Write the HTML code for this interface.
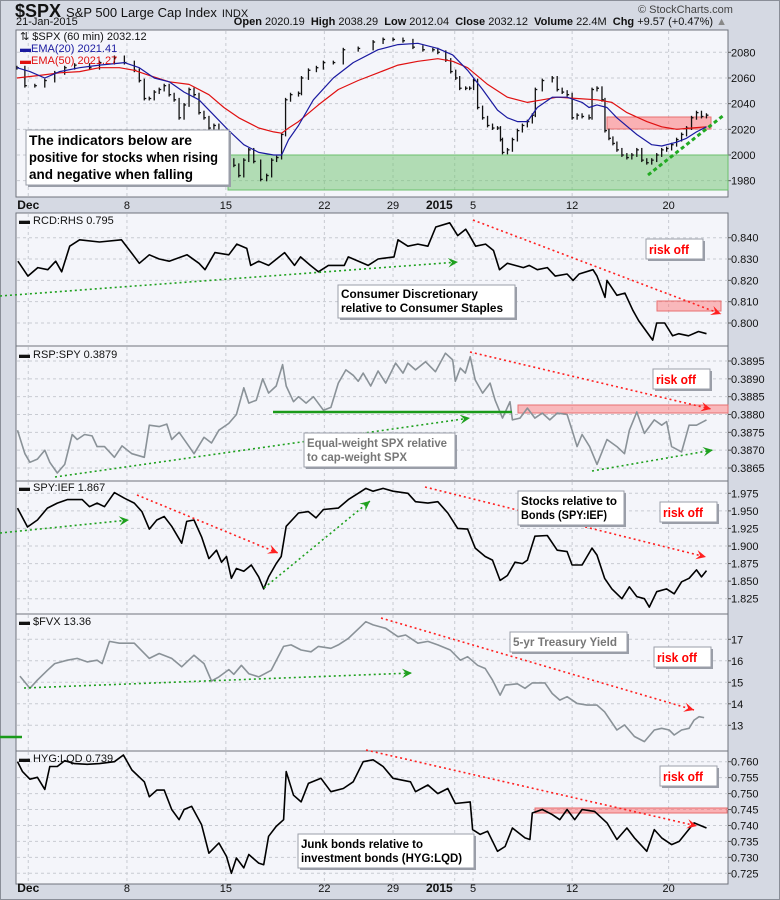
<!DOCTYPE html>
<html><head><meta charset="utf-8">
<style>
html,body{margin:0;padding:0;background:#d5d9e3;}
body{width:780px;height:900px;overflow:hidden;font-family:"Liberation Sans",sans-serif;position:relative;}
#frame{position:absolute;left:0;top:0;width:778px;height:898px;border:1px solid #8a8e98;}
.hdr{position:absolute;white-space:nowrap;color:#111;}
svg{position:absolute;left:0;top:0;}
</style></head><body>
<div id="frame"></div>
<div class="hdr" style="left:15px;top:1px;font-size:18px;font-weight:bold;">$SPX <span style="font-size:13px;font-weight:normal">S&amp;P 500 Large Cap Index</span> <span style="font-size:11px;font-weight:normal">INDX</span></div>
<div class="hdr" style="left:16px;top:16px;font-size:11px;">21-Jan-2015</div>
<div class="hdr" style="left:638px;top:4px;font-size:11px;color:#444;">© StockCharts.com</div>
<div class="hdr" style="right:53px;top:16px;font-size:11px;"><b>Open</b> 2020.19 &nbsp;<b>High</b> 2038.29 &nbsp;<b>Low</b> 2012.04 &nbsp;<b>Close</b> 2032.12 &nbsp;<b>Volume</b> 22.4M &nbsp;<b>Chg</b> +9.57 (+0.47%) <span style="color:#888">▲</span></div>
<svg id="chart" width="780" height="900"></svg>
<script>
// ---- data ----
const tickBars=[14.2,63.8,113.5,163,197.5,228.5,237.7,287.5,336];
const tickLabels=["Dec","8","15","22","29","2015","5","12","20"];
const spxCloses=[[8.5,2068],[12.5,2054],[17.5,2054],[22.5,2058],[27.5,2064],[32.5,2068],[37.5,2070],[45,2068],[50,2072],[57.5,2076],[62.5,2072],[67.5,2066],[70,2058],[72.5,2044],[75,2044],[77.5,2049],[80,2051],[82.5,2054],[85,2047],[87.5,2043],[90,2029],[92.5,2039],[95,2051],[97.5,2047],[100,2033],[102.5,2029],[105,2021],[107.5,2023],[110,2016],[115,1996],[117.5,1992],[120,1984],[122.5,1996],[125,2004],[127.5,1995],[131,1981],[134,1984],[136.5,1996],[139,1998],[141.5,2016],[143.5,2043],[146,2047],[150,2048],[151.5,2060],[155,2066],[159,2068],[162.5,2072],[167.5,2072],[172.5,2082],[180,2083],[187.5,2088],[192.5,2090],[197.5,2090],[202.5,2089],[207.5,2084],[212.5,2082],[217.5,2082],[220,2080],[224,2074],[226.5,2065],[229,2060],[231,2052],[234,2052],[236,2052],[238,2058],[240,2037],[242.5,2029],[245,2023],[247.5,2021],[250,2021],[251.5,2012],[252.5,2002],[255,2004],[257.5,2012],[260,2019],[262.5,2023],[265,2026],[267.5,2031],[269,2051],[272.5,2058],[277.5,2060],[280,2051],[282.5,2049],[285,2047],[287.5,2029],[290,2031],[292.5,2030],[296,2029],[297.5,2051],[300,2052],[302.5,2043],[304,2019],[306,2013],[308,2009],[310,2004],[312.5,2000],[315,1998],[317.5,2000],[320,2004],[322.5,1996],[325,1994],[327.5,1996],[330,2000],[332.5,2004],[335,2005],[337.5,2008],[340,2012],[342.5,2016],[345,2021],[347.5,2029],[350,2033],[352.5,2030],[355,2031]];
const ema20=[[8.5,2068],[15,2065],[22.5,2060],[30,2065],[40,2068],[50,2070],[62.5,2072],[70,2068],[77.5,2060],[85,2057],[92.5,2049],[100,2043],[107.5,2031],[115,2019],[122.5,2008],[130,2002],[137.5,2000],[141.5,2000],[145,2012],[150,2023],[157.5,2043],[167.5,2060],[177.5,2072],[190,2082],[200,2086],[210,2087],[220,2083],[227.5,2078],[235,2066],[242.5,2051],[250,2035],[255,2029],[260,2026],[265,2026],[270,2037],[277.5,2045],[285,2045],[292.5,2041],[296,2037],[300,2039],[305,2037],[310,2029],[320,2016],[327.5,2008],[332.5,2007],[340,2010],[345,2013],[350,2018],[355,2022]];
const ema50=[[8.5,2060],[20,2062],[30,2064],[40,2065],[50,2068],[60,2068],[67.5,2066],[75,2062],[85,2057],[95,2055],[105,2047],[112.5,2037],[120,2029],[130,2021],[137.5,2018],[141.5,2017],[145,2021],[150,2026],[160,2039],[170,2051],[180,2058],[190,2064],[200,2070],[210,2073],[220,2075],[227.5,2073],[235,2068],[245,2055],[255,2045],[265,2041],[272.5,2043],[280,2045],[290,2044],[300,2043],[307.5,2041],[315,2033],[325,2026],[332.5,2022],[340,2020],[347.5,2021],[355,2022]];
const rcd=[[9,.829],[14,.822],[19,.826],[24,.825],[28,.829],[31,.824],[35,.836],[40,.839],[50,.838],[61,.839],[66,.833],[70,.828],[75,.832],[80,.830],[85,.829],[94,.832],[100,.828],[103,.825],[108,.833],[115,.832],[119,.837],[124,.835],[126,.827],[130,.829],[135,.827],[143,.833],[148,.827],[151,.831],[156,.827],[160,.824],[165,.827],[173,.827],[175,.831],[185,.827],[190,.830],[198,.831],[200,.839],[205,.836],[210,.837],[215,.836],[219,.845],[226,.847],[230,.841],[234,.844],[236,.841],[239,.836],[244,.837],[248,.834],[251,.825],[255,.828],[263,.826],[266,.827],[270,.825],[275,.826],[279,.822],[285,.823],[288,.820],[291,.823],[298,.825],[300,.822],[304,.812],[305,.820],[310,.813],[314,.814],[318,.806],[321,.801],[328,.792],[330,.800],[334,.800],[338,.794],[341,.795],[346,.794],[351,.796],[355,.795]];
const rsp=[[8.8,.38756],[12.5,.3869],[15,.38666],[18.8,.38675],[22.5,.3870],[25,.38666],[28.8,.38636],[32.5,.3866],[36.3,.38744],[38.8,.3873],[42.5,.38744],[46.3,.3874],[48.8,.3871],[52.5,.3871],[57.5,.3868],[61.3,.38712],[66.3,.3869],[72.5,.3868],[75,.3877],[80,.38766],[83.8,.38773],[86.3,.3873],[90,.3875],[95,.3871],[97.5,.3869],[102.5,.38736],[106.3,.3872],[110,.38756],[115,.38775],[118.8,.3880],[122.5,.38875],[125,.38832],[128.8,.3884],[132,.3890],[135,.3886],[138.8,.3888],[142,.3894],[143.8,.3888],[147.5,.38836],[150,.3885],[153.8,.38832],[157.5,.3885],[162.5,.38812],[166.3,.3882],[170,.38888],[173.8,.38925],[177.5,.3891],[180,.38893],[182.5,.38916],[186.3,.3888],[190,.38922],[193.8,.38888],[198.8,.38944],[202.5,.38916],[205,.38944],[208.8,.38925],[213.8,.38948],[218.8,.3892],[223.8,.38972],[227.5,.38953],[228.8,.38893],[231.3,.3893],[233.8,.38916],[236.3,.38962],[238.8,.38897],[242.5,.3886],[246.3,.38888],[248.8,.3884],[252.5,.3879],[256.3,.38836],[257.5,.38785],[261.3,.3879],[265,.38818],[268.8,.3879],[272.5,.38804],[276.3,.38785],[280,.38804],[285,.3880],[287.5,.38756],[290,.3871],[292.5,.38744],[296.3,.3871],[300,.3866],[305,.3873],[310,.3871],[313.8,.3869],[316.3,.38756],[320,.38807],[323.8,.38747],[328.8,.38785],[332.5,.3877],[335,.3878],[337.5,.3871],[342.5,.38695],[346.3,.3877],[350,.3877],[355,.38785]];
const spyief=[[8.8,1.954],[13.8,1.927],[18.8,1.937],[23.8,1.954],[28.8,1.961],[33.8,1.966],[41.3,1.966],[45,1.956],[48.8,1.961],[52.5,1.956],[57.5,1.976],[62.5,1.968],[67.5,1.961],[71.3,1.949],[75,1.924],[78.8,1.937],[82.5,1.942],[86.3,1.928],[91.3,1.904],[93.8,1.935],[97.5,1.937],[101.3,1.913],[105,1.882],[108.8,1.894],[111.3,1.877],[113.8,1.885],[116.3,1.854],[118.8,1.868],[122.5,1.864],[126.3,1.873],[130,1.856],[132.5,1.839],[135,1.856],[138.8,1.875],[141.3,1.885],[143.8,1.928],[150,1.947],[155,1.949],[158.8,1.940],[162.5,1.952],[170,1.954],[175,1.966],[180,1.975],[183.8,1.982],[187.5,1.978],[192.5,1.982],[197.5,1.978],[205,1.975],[208.8,1.963],[215,1.961],[220,1.963],[225,1.947],[230,1.925],[235,1.924],[238.8,1.897],[243.8,1.885],[247.5,1.880],[251.3,1.851],[255,1.858],[258.8,1.877],[262.5,1.875],[265,1.880],[268.8,1.914],[275,1.915],[280,1.894],[285,1.892],[287.5,1.873],[292.5,1.873],[297.5,1.897],[300,1.887],[303.8,1.854],[307.5,1.839],[312.5,1.825],[316.3,1.842],[320,1.828],[323.8,1.825],[326.3,1.813],[330,1.835],[335,1.839],[338.8,1.832],[342.5,1.849],[346.3,1.854],[350,1.866],[352.5,1.856],[355,1.865]];
const fvx=[[10,15.29],[15,14.72],[18.8,15.1],[23.8,15.56],[27.5,15.87],[33.8,16.03],[38.8,16.11],[43.8,15.95],[48.8,16.03],[51.3,15.87],[55,16.9],[60,16.82],[67.5,16.82],[75,16.11],[80,16.34],[86.3,16.11],[91.3,15.72],[97.5,16.26],[102.5,15.87],[106.3,15.06],[110,15.25],[115,15.59],[117.5,15.37],[121.3,15.79],[125,15.4],[130,15.25],[136.3,15.56],[142.5,16.67],[146.3,16.74],[151.3,16.5],[156.3,16.42],[160,16.67],[166.3,16.58],[170,16.74],[175,17.04],[181.3,17.59],[183.8,17.82],[187.5,17.67],[193.8,17.51],[200,17.12],[203.8,17.2],[210,16.82],[215,16.9],[220,16.74],[226.3,16.5],[231.3,16.03],[235,16.19],[240,15.79],[243.8,15.64],[247.5,15.1],[251.3,14.4],[253.8,14.87],[260,14.93],[263.8,14.72],[267.5,14.97],[273.8,14.97],[277.5,14.48],[281.3,14.17],[285,14.33],[290,14.02],[295,13.94],[300,13.94],[303.8,13.63],[310,12.78],[313.8,13.02],[318.8,12.48],[323.8,12.24],[328.8,12.78],[332.5,12.86],[336.3,12.78],[338.8,12.55],[342.5,12.78],[346.3,12.86],[348.8,13.24],[351.3,13.4],[353.8,13.36]];
const hyg=[[8.8,.760],[11.3,.7569],[15,.7545],[18.8,.7551],[22.5,.7513],[25,.7585],[28.8,.7585],[32.5,.7603],[37.5,.7594],[43.8,.7592],[50,.7594],[57.5,.760],[62,.7621],[66.3,.7574],[72.5,.7537],[75,.749],[78.8,.7511],[82.5,.7511],[86.3,.745],[90,.7418],[92.5,.745],[96.3,.746],[101.3,.7402],[105,.7313],[110,.7345],[113.8,.7303],[116.3,.725],[118.8,.7298],[122.5,.7267],[125,.7309],[130,.7282],[132.5,.7277],[135,.7366],[138.8,.7397],[142.5,.7418],[143.8,.7569],[147.5,.7495],[151.3,.7474],[155,.7532],[161.3,.7548],[166.3,.7506],[172.5,.7516],[177.5,.7537],[182.5,.760],[187.5,.7606],[192.5,.7585],[197.5,.7548],[206.3,.7537],[208.8,.7506],[215,.7527],[220,.750],[225,.7516],[228.8,.7469],[236.3,.7474],[237.5,.7387],[241.3,.7372],[245,.7382],[250,.7319],[253.8,.7334],[257.5,.7392],[263.8,.7361],[266.3,.7356],[267.5,.7439],[272.5,.745],[277.5,.7434],[281.3,.7418],[285,.745],[288.8,.7418],[292.5,.745],[298.8,.7444],[305,.7408],[310,.7356],[315,.7392],[318.8,.7361],[325,.7319],[328.8,.7387],[332.5,.7361],[337.5,.734],[341.3,.735],[348.8,.7408],[355,.7392]];
const spxTicks=[2080,2060,2040,2020,2000,1980];
const rcdTicks=[0.840,0.830,0.820,0.810,0.800];
const rspTicks=[0.3895,0.3890,0.3885,0.3880,0.3875,0.3870,0.3865];
const spyTicks=[1.975,1.950,1.925,1.900,1.875,1.850,1.825];
const fvxTicks=[17,16,15,14,13];
const hygTicks=[0.760,0.755,0.750,0.745,0.740,0.735,0.730,0.725];

// ---- drawing ----
const svg=document.getElementById('chart');
const NS='http://www.w3.org/2000/svg';
const L=16,R=728;
function x(b){return b*1.99;}
function lin(v1,y1,v2,y2){return v=>y1+(v-v1)*(y2-y1)/(v2-v1);}
function el(tag,attrs,parent){const e=document.createElementNS(NS,tag);for(const k in attrs)e.setAttribute(k,attrs[k]);(parent||svg).appendChild(e);return e;}
function txt(s,x0,y0,attrs){const t=el('text',Object.assign({x:x0,y:y0,'font-family':'Liberation Sans, sans-serif','font-size':11,fill:'#111'},attrs||{}));t.textContent=s;return t;}
function fmt(v,d){return v.toFixed(d);}

const panels=[
 {name:'spx',top:30,bot:197,y:lin(2000,155,2080,52.3),ticks:spxTicks,dec:0},
 {name:'rcd',top:213,bot:346,y:lin(0.840,237.7,0.800,323),ticks:rcdTicks,dec:3},
 {name:'rsp',top:346,bot:481,y:lin(0.3895,361,0.3865,468),ticks:rspTicks,dec:4},
 {name:'spy-ief',top:481,bot:614,y:lin(1.975,493.3,1.825,598.7),ticks:spyTicks,dec:3},
 {name:'fvx',top:614,bot:751,y:lin(17,639.3,13,725.3),ticks:fvxTicks,dec:0},
 {name:'hyg',top:751,bot:884,y:lin(0.760,761.7,0.725,873.3),ticks:hygTicks,dec:3}
];
panels.forEach(p=>{
 const g=el('g',{});
 
 
 el('rect',{x:L,y:p.top,width:R-L,height:p.bot-p.top,fill:'#f4f5fa',stroke:'#6f737c','stroke-width':1},g);
 tickBars.forEach((b,i)=>{
  const ln=el('line',{x1:x(b),x2:x(b),y1:p.top+1,y2:p.bot-1,stroke:'#c8cbd2','stroke-dasharray':'3,3'},g);
  
  
 });
 p.ticks.forEach(v=>{
  const yy=p.y(v);
  const ln=el('line',{x1:L+1,x2:R,y1:yy,y2:yy,stroke:'#c8cbd2','stroke-dasharray':'3,3'},g);
  
  
  el('line',{x1:R,x2:R+3,y1:yy,y2:yy,stroke:'#555'},g);
  const t=txt(fmt(v,p.dec),R+3,yy+4,{'font-size':11});
  
  
 });
});
// x labels
function xLabels(yy){
 tickBars.forEach((b,i)=>{
  const bold=(tickLabels[i]==='Dec'||tickLabels[i]==='2015');
  const a=tickLabels[i]==='2015'?{'text-anchor':'end','font-weight':'bold','font-size':12}:{'text-anchor':'middle','font-weight':bold?'bold':'normal','font-size':bold?12:11};
  const t=txt(tickLabels[i],tickLabels[i]==='2015'?x(b)-2:x(b),yy,a);
  
  
 });
}
xLabels(209);xLabels(892);

// zones & annotations under series
function rect(nm,x0,y0,w,h,fill,stroke){const r=el('rect',{x:x0,y:y0,width:w,height:h,fill:fill,stroke:stroke||'none'});return r;}
rect('support-zone',228,155,500,35,'rgba(110,195,110,0.5)','#6cbf6c');
rect('resistance-zone-spx',607,117,104,12,'rgba(255,110,110,0.5)','#e87070');
rect('resistance-zone-rcd',657,301,64,10,'rgba(255,110,110,0.45)','#e87070');
rect('resistance-zone-rsp',518,405,210,8,'rgba(255,110,110,0.45)','#e87070');
rect('resistance-zone-hyg',535,808,192,5,'rgba(255,110,110,0.5)','#e87070');

function line(nm,pts,color,w){
 const d=pts.map((p,i)=>(i?'L':'M')+p[0].toFixed(1)+','+p[1].toFixed(1)).join('');
 const path=el('path',{d:d,fill:'none',stroke:color,'stroke-width':w||1.5,'stroke-linejoin':'round'});
 
 
 return path;
}
// price bars
const py=panels[0].y;
const barG=el('g',{stroke:'#111','stroke-width':1.3});


spxCloses.forEach((c,i)=>{
 const o=i?spxCloses[i-1][1]:c[1];
 const hi=Math.max(o,c[1])+1.5, lo=Math.min(o,c[1])-1.5;
 const xx=x(c[0]);
 el('line',{x1:xx,x2:xx,y1:py(hi),y2:py(lo)},barG);
 el('line',{x1:xx,x2:xx+2,y1:py(c[1]),y2:py(c[1])},barG);
});
line('ema-50-line',ema50.map(p=>[x(p[0]),py(p[1])]),'#e01010',1.2);
line('ema-20-line',ema20.map(p=>[x(p[0]),py(p[1])]),'#1a1aa0',1.2);
line('rcd-rhs-line',rcd.map(p=>[x(p[0]),panels[1].y(p[1])]),'#000',1.6);
line('rsp-spy-line',rsp.map(p=>[x(p[0]),panels[2].y(p[1])]),'#8a9298',1.6);
line('spy-ief-line',spyief.map(p=>[x(p[0]),panels[3].y(p[1])]),'#000',1.6);
line('fvx-line',fvx.map(p=>[x(p[0]),panels[4].y(p[1])]),'#8a9298',1.6);
line('hyg-lqd-line',hyg.map(p=>[x(p[0]),panels[5].y(p[1])]),'#000',1.6);

// trend lines with arrows
function arrowLine(nm,x1,y1,x2,y2,color,dash,head){
 const l=el('line',{x1:x1,y1:y1,x2:x2,y2:y2,stroke:color,'stroke-width':dash?1.6:2.5,'stroke-dasharray':dash?'2,3':'none'});
 
 
 if(head){
  const a=Math.atan2(y2-y1,x2-x1),s=11;
  const p1=[x2-s*Math.cos(a-0.45),y2-s*Math.sin(a-0.45)],p2=[x2-s*Math.cos(a+0.45),y2-s*Math.sin(a+0.45)],p3=[x2-s*0.55*Math.cos(a),y2-s*0.55*Math.sin(a)];
  const h=el('polygon',{points:[[x2,y2],p1,p3,p2].map(p=>p.join(',')).join(' '),fill:color});
  
  
 }
}
const G='#1ea01e',RD='#ff2020';
arrowLine('spx-uptrend',648,175,724,115,'#22aa22',false,false);
svg.lastChild.setAttribute('stroke-dasharray','4,3');svg.lastChild.setAttribute('stroke-width','3');
arrowLine('rcd-green-trend',0,296,458,262,G,true,true);
arrowLine('rcd-red-trend',473,220,721,314,RD,true,true);
arrowLine('rsp-support-line',273,412,512,412,'#1a9a1a',false,false);
arrowLine('rsp-green-trend',55,477,470,418,G,true,true);
arrowLine('rsp-green-trend-2',592,471,713,450,G,true,true);
arrowLine('rsp-red-trend',470,352,711,409,RD,true,true);
arrowLine('spy-green-trend-1',0,533,129,520,G,true,true);
arrowLine('spy-red-trend-1',137,495,278,553,RD,true,true);
arrowLine('spy-green-trend-2',264,588,370,501,G,true,true);
arrowLine('spy-red-trend-2',425,487,706,557,RD,true,true);
arrowLine('fvx-green-trend',24,688,412,673,G,true,true);
arrowLine('fvx-red-trend',381,618,694,710,RD,true,true);
arrowLine('hyg-red-trend',366,750,697,826,RD,true,true);
const gm=el('line',{x1:0,x2:22,y1:737,y2:737,stroke:'#1a9a1a','stroke-width':2.5});



// text boxes
function box(nm,x0,y0,w,h,lines,opts){
 const g=el('g',{});
 
 
 el('rect',{x:x0+2,y:y0+2,width:w,height:h,fill:'#9a9ea8'},g);
 el('rect',{x:x0,y:y0,width:w,height:h,fill:'#fff',stroke:'#9a9ea8'},g);
 lines.forEach((s,i)=>{
  const t=el('text',{x:x0+opts.pad,y:y0+opts.first+i*opts.lh,'font-family':'Liberation Sans, sans-serif','font-size':opts.fs,'font-weight':'bold',fill:opts.color,textLength:opts.tl?opts.tl[i]:null},g);
  if(!opts.tl)t.removeAttribute('textLength'); else t.setAttribute('lengthAdjust','spacingAndGlyphs');
  t.textContent=s;
 });
}
box('indicator-note',26,130,203,55,['The indicators below are','positive for stocks when rising','and negative when falling'],{pad:3,first:15,lh:17,fs:14,color:'#000',tl:[163,189,164]});
box('rcd-note',338,285,177,33,['Consumer Discretionary','relative to Consumer Staples'],{pad:3,first:13,lh:14,fs:12,color:'#000',tl:[137,162]});
box('rsp-note',304,433,151,34,['Equal-weight SPX relative','to cap-weight SPX'],{pad:3,first:14,lh:14,fs:12,color:'#777',tl:[140,100]});
box('spy-ief-note',518,491,106,34,['Stocks relative to','Bonds (SPY:IEF)'],{pad:3,first:14,lh:14,fs:12,color:'#000',tl:[96,86]});
box('fvx-note',510,632,117,20,['5-yr Treasury Yield'],{pad:3,first:14,lh:14,fs:12,color:'#777',tl:[104]});
box('hyg-note',298,834,176,34,['Junk bonds relative to','investment bonds (HYG:LQD)'],{pad:3,first:14,lh:14,fs:12,color:'#000',tl:[122,161]});
[[646,239],[653,369],[660,502],[654,647],[660,766]].forEach((p,i)=>{
 box('risk-off-label',p[0],p[1],57,20,['risk off'],{pad:3,first:15,lh:14,fs:13,color:'#ff0000',tl:[40]});
});

// legends
function legend(nm,x0,y0,s,color,mark){
 const t=txt(s,x0,y0,{fill:color,'font-size':11});
 
 
}
legend('spx-legend',20,40,'⇅ $SPX (60 min) 2032.12','#111');
legend('ema20-legend',20,52,'▬EMA(20) 2021.41','#1a1aa0');
legend('ema50-legend',20,64,'▬EMA(50) 2021.27','#e01010');
legend('rcd-legend',19,224,'▬ RCD:RHS 0.795','#111');
legend('rsp-legend',19,358,'▬ RSP:SPY 0.3879','#111');
legend('spy-ief-legend',19,491,'▬ SPY:IEF 1.867','#111');
legend('fvx-legend',19,625,'▬ $FVX 13.36','#111');
legend('hyg-legend',19,762,'▬ HYG:LQD 0.739','#111');
</script>
</body></html>
